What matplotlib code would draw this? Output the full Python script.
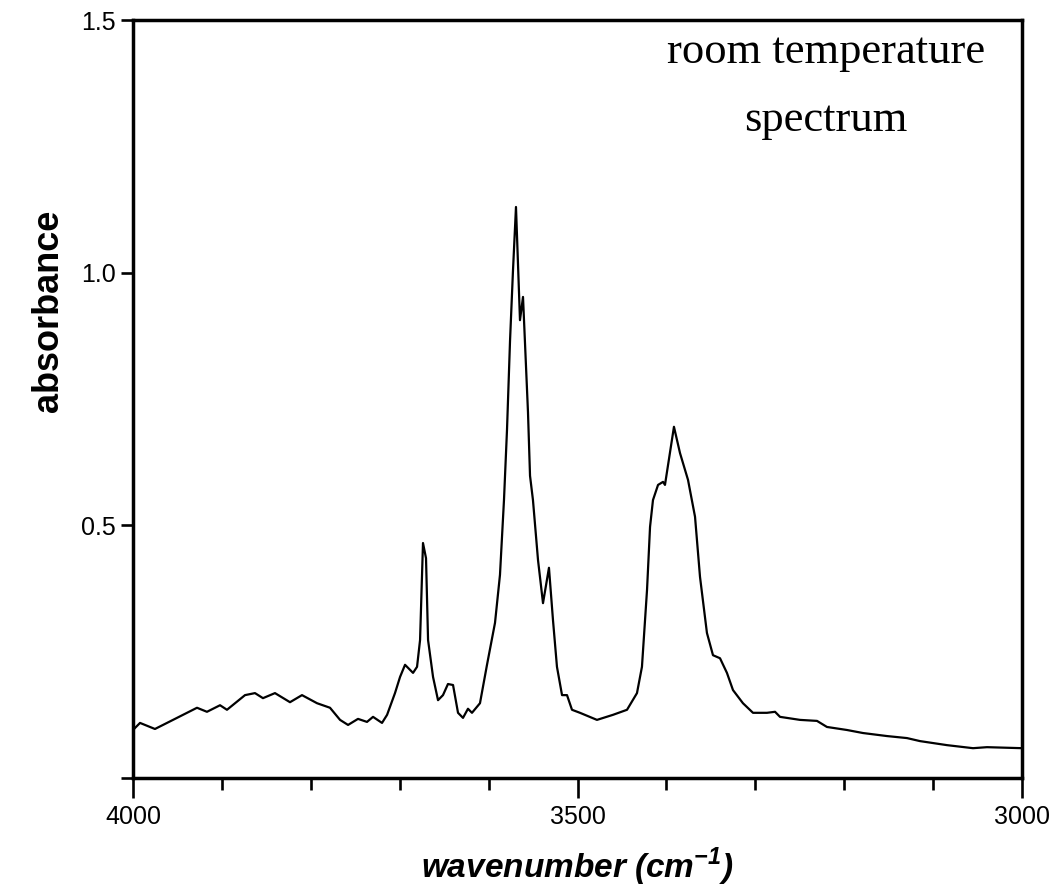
import matplotlib.pyplot as plt

plt.rcParams['font.family'] = ['Liberation Sans', 'DejaVu Sans']

# spectrum
wavenumber = [4000.0, 3992.1, 3975.3, 3955.0, 3928.0, 3916.8, 3902.1, 3894.3, 3874.0, 3862.8,
              3853.8, 3840.3, 3823.4, 3809.9, 3793.0, 3778.4, 3767.1, 3758.1, 3746.9, 3736.8,
              3730.0, 3719.9, 3714.2, 3705.3, 3699.6, 3694.0, 3685.0, 3680.5, 3677.1, 3673.8,
              3670.4, 3668.1, 3662.5, 3656.9, 3651.3, 3645.7, 3640.0, 3634.4, 3628.8, 3623.2,
              3618.7, 3609.7, 3601.8, 3592.8, 3587.2, 3582.7, 3579.3, 3575.9, 3572.6, 3569.2,
              3564.7, 3561.3, 3555.7, 3553.4, 3550.1, 3544.4, 3538.8, 3532.1, 3527.6, 3523.1,
              3517.4, 3511.8, 3506.2, 3497.2, 3478.1, 3460.1, 3444.3, 3433.1, 3427.5, 3421.8,
              3418.4, 3415.1, 3409.4, 3403.8, 3401.6, 3391.5, 3384.7, 3375.7, 3367.8, 3362.2,
              3354.4, 3347.6, 3339.7, 3331.9, 3325.1, 3313.9, 3302.6, 3286.9, 3277.8, 3272.2,
              3249.7, 3230.6, 3219.4, 3196.9, 3178.9, 3151.9, 3129.4, 3114.7, 3084.3, 3055.1,
              3039.4, 3000.0]
absorbance = [0.095, 0.109, 0.097, 0.115, 0.139, 0.131, 0.144, 0.135, 0.164, 0.168,
              0.158, 0.168, 0.150, 0.164, 0.148, 0.139, 0.115, 0.105, 0.117, 0.111,
              0.121, 0.109, 0.125, 0.168, 0.200, 0.224, 0.208, 0.220, 0.273, 0.465,
              0.435, 0.273, 0.200, 0.154, 0.164, 0.186, 0.184, 0.129, 0.119, 0.137,
              0.129, 0.148, 0.224, 0.307, 0.402, 0.550, 0.689, 0.865, 1.003, 1.130,
              0.906, 0.952, 0.724, 0.598, 0.550, 0.431, 0.346, 0.416, 0.313, 0.220,
              0.164, 0.164, 0.135, 0.129, 0.115, 0.125, 0.135, 0.168, 0.220, 0.372,
              0.497, 0.550, 0.580, 0.586, 0.580, 0.695, 0.643, 0.590, 0.517, 0.398,
              0.287, 0.243, 0.237, 0.208, 0.174, 0.148, 0.129, 0.129, 0.131, 0.121,
              0.115, 0.113, 0.101, 0.095, 0.089, 0.083, 0.079, 0.073, 0.065, 0.059,
              0.061, 0.059]

major_x = [4000, 3500, 3000]
minor_x = [3900, 3800, 3700, 3600, 3400, 3300, 3200, 3100]
y_ticks = [0, 0.5, 1.0, 1.5]
y_labels = ['', '0.5', '1.0', '1.5']

fig = plt.figure(figsize=(10.58, 8.91), dpi=100)
ax = fig.add_axes([133/1058, 1-778/891, 889/1058, 758/891])
ax.plot(wavenumber, absorbance, color='black', linewidth=1.6)
ax.set_xlim(4000, 3000)
ax.set_ylim(0, 1.5)

ax.set_xticks(major_x)
ax.set_xticks(minor_x, minor=True)
ax.set_yticks(y_ticks)
ax.set_yticklabels(y_labels)
ax.tick_params(axis='x', which='major', length=14.5, width=1.9, pad=5, labelsize=18)
ax.tick_params(axis='x', which='minor', length=8.5, width=1.9)
ax.tick_params(axis='y', length=8.5, width=1.9, pad=4, labelsize=18)
for s in ax.spines.values():
    s.set_linewidth(2.5)

fig.text(49/1058, 1-311/891, 'absorbance', rotation=90, ha='center', va='center',
         fontsize=26, fontweight='bold')
fig.text(577/1058, 1-878/891, r'wavenumber (cm$^{\mathregular{-1}}$)', ha='center',
         va='baseline', fontsize=24, fontweight='bold', style='italic')

fig.text(826/1058, 1-63/891, 'room temperature', ha='center', va='baseline',
         fontsize=32, family='Liberation Serif')
fig.text(826/1058, 1-131/891, 'spectrum', ha='center', va='baseline',
         fontsize=32, family='Liberation Serif')

plt.savefig('out.png', dpi=100)
